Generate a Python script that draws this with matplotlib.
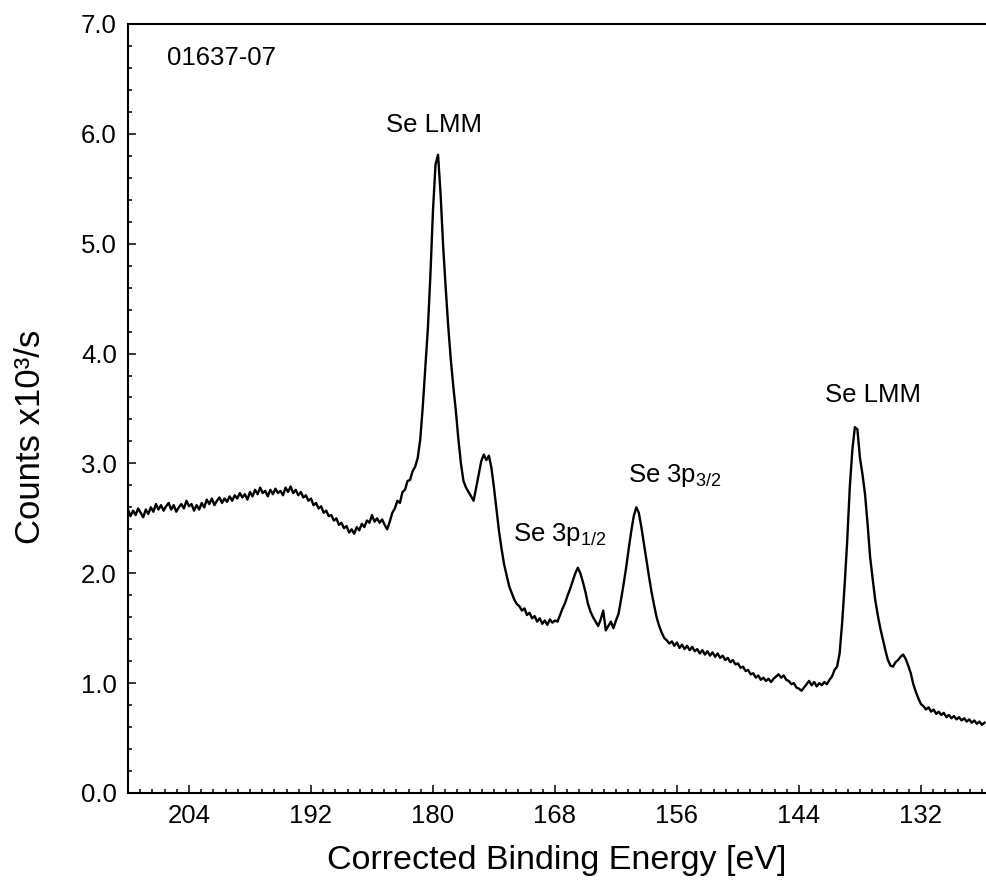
"""
Se survey spectrum (XPS), sample 01637-07.
Counts read off the original figure, 0.25 eV steps, highest binding energy first.
"""
import numpy as np
import matplotlib
matplotlib.use("Agg")
import matplotlib.pyplot as plt
from matplotlib.ticker import MultipleLocator, FormatStrFormatter

plt.rcParams["font.family"] = ["Liberation Sans", "DejaVu Sans"]

STEP = 0.25  # eV between points

# 210.00 -> 190.00 eV  (broad background hump)
bg_start = 210.0
bg_counts = [
    2.58, 2.52, 2.57, 2.53, 2.59, 2.55, 2.51, 2.58,
    2.54, 2.60, 2.56, 2.63, 2.58, 2.62, 2.57, 2.61,
    2.64, 2.58, 2.62, 2.56, 2.60, 2.63, 2.59, 2.66,
    2.61, 2.63, 2.57, 2.62, 2.58, 2.64, 2.60, 2.67,
    2.63, 2.68, 2.62, 2.66, 2.69, 2.64, 2.68, 2.65,
    2.70, 2.66, 2.71, 2.68, 2.73, 2.69, 2.72, 2.67,
    2.74, 2.70, 2.76, 2.72, 2.78, 2.73, 2.75, 2.70,
    2.76, 2.72, 2.77, 2.73, 2.75, 2.71, 2.78, 2.74,
    2.79, 2.73, 2.76, 2.71, 2.74, 2.69, 2.71, 2.66,
    2.68, 2.62, 2.64, 2.59, 2.61, 2.55, 2.57, 2.52,
    2.53,
]

# 189.75 -> 182.00 eV
pre_lmm_start = 189.75
pre_lmm_counts = [
    2.48, 2.50, 2.44, 2.46, 2.41, 2.43, 2.37, 2.40,
    2.36, 2.42, 2.39, 2.45, 2.42, 2.48, 2.46, 2.53,
    2.47, 2.50, 2.46, 2.49, 2.44, 2.40, 2.47, 2.55,
    2.59, 2.66, 2.64, 2.74, 2.76, 2.84, 2.85, 2.93,
]

# 181.75 -> 176.00 eV  (Se LMM, main)
lmm1_start = 181.75
lmm1_counts = [
    2.97, 3.05, 3.22, 3.52, 3.88, 4.23, 4.72, 5.30,
    5.72, 5.81, 5.45, 4.98, 4.60, 4.25, 3.95, 3.70,
    3.48, 3.22, 3.00, 2.84, 2.78, 2.74, 2.70, 2.66,
]

# 175.75 -> 160.00 eV  (shoulder, Se 3p1/2, Se 3p3/2)
se3p_start = 175.75
se3p_counts = [
    2.78, 2.90, 3.02, 3.08, 3.03, 3.07, 2.96, 2.78,
    2.58, 2.38, 2.22, 2.08, 1.98, 1.88, 1.82, 1.76,
    1.72, 1.70, 1.66, 1.68, 1.62, 1.64, 1.59, 1.61,
    1.56, 1.59, 1.54, 1.57, 1.53, 1.58, 1.55, 1.57,
    1.56, 1.62, 1.68, 1.73, 1.80, 1.86, 1.93, 2.00,
    2.05, 2.00, 1.92, 1.83, 1.72, 1.65, 1.60, 1.56,
    1.52, 1.58, 1.66, 1.48, 1.52, 1.56, 1.50, 1.57,
    1.63, 1.76, 1.90, 2.05, 2.22, 2.38, 2.52, 2.60,
]

# 159.75 -> 140.50 eV
tail_start = 159.75
tail_counts = [
    2.55, 2.42, 2.27, 2.12, 1.97, 1.83, 1.71, 1.60,
    1.52, 1.46, 1.41, 1.39, 1.36, 1.38, 1.34, 1.37,
    1.32, 1.35, 1.31, 1.34, 1.30, 1.33, 1.29, 1.31,
    1.27, 1.30, 1.26, 1.29, 1.25, 1.28, 1.24, 1.27,
    1.23, 1.25, 1.21, 1.23, 1.19, 1.21, 1.17, 1.18,
    1.14, 1.15, 1.11, 1.12, 1.08, 1.09, 1.05, 1.07,
    1.03, 1.05, 1.02, 1.04, 1.01, 1.04, 1.06, 1.08,
    1.05, 1.07, 1.03, 1.02, 0.99, 1.00, 0.96, 0.95,
    0.93, 0.96, 0.99, 1.02, 0.98, 1.01, 0.97, 1.00,
    0.98, 1.01, 0.99, 1.03, 1.06, 1.12,
]

# 140.25 -> 125.75 eV  (Se LMM, second)
lmm2_start = 140.25
lmm2_counts = [
    1.15, 1.27, 1.55, 1.90, 2.30, 2.78, 3.12, 3.33,
    3.31, 3.05, 2.90, 2.72, 2.45, 2.15, 1.95, 1.76,
    1.62, 1.50, 1.40, 1.30, 1.21, 1.16, 1.15, 1.19,
    1.21, 1.24, 1.26, 1.22, 1.16, 1.09, 0.99, 0.92,
    0.86, 0.81, 0.79, 0.76, 0.78, 0.74, 0.76, 0.72,
    0.74, 0.71, 0.73, 0.69, 0.71, 0.68, 0.70, 0.67,
    0.69, 0.66, 0.68, 0.65, 0.67, 0.64, 0.66, 0.63,
    0.65, 0.62, 0.64,
]

segments = [
    (bg_start, bg_counts),
    (pre_lmm_start, pre_lmm_counts),
    (lmm1_start, lmm1_counts),
    (se3p_start, se3p_counts),
    (tail_start, tail_counts),
    (lmm2_start, lmm2_counts),
]

# peak labels: (text, energy, counts, alignment)
sample_id = "01637-07"
peak_labels = [
    ("Se LMM", 179.85, 6.02, "center"),
    ("Se 3p$_{\\mathregular{1/2}}$", 172.1, 2.29, "left"),
    ("Se 3p$_{\\mathregular{3/2}}$", 160.8, 2.83, "left"),
    ("Se LMM", 136.7, 3.56, "center"),
]


def build_spectrum():
    energy, counts = [], []
    for start, vals in segments:
        energy.append(start - STEP * np.arange(len(vals)))
        counts.append(np.asarray(vals))
    return np.concatenate(energy), np.concatenate(counts)


def main():
    energy, counts = build_spectrum()

    fig = plt.figure(figsize=(9.86, 8.81), dpi=100)
    ax = fig.add_axes([0.1298, 0.0999, 0.8702, 0.8729])

    ax.plot(energy, counts, color="black", linewidth=1.7)

    ax.set_xlim(210.0, 125.6)
    ax.set_ylim(0, 7.0)

    ax.xaxis.set_major_locator(MultipleLocator(12))
    ax.xaxis.set_minor_locator(MultipleLocator(1.2))
    ax.yaxis.set_major_locator(MultipleLocator(1.0))
    ax.yaxis.set_minor_locator(MultipleLocator(0.2))
    ax.yaxis.set_major_formatter(FormatStrFormatter("%.1f"))

    ax.tick_params(which="both", direction="in", width=1.1, labelsize=18.5,
                   pad=8, top=False, right=False)
    ax.tick_params(which="major", length=6)
    ax.tick_params(which="minor", length=3.2)

    for side in ("left", "bottom", "top"):
        ax.spines[side].set_linewidth(1.5)
    ax.spines["right"].set_visible(False)

    ax.set_xlabel("Corrected Binding Energy [eV]", fontsize=24.5)
    ax.set_ylabel("Counts x10³/s", fontsize=25)
    ax.xaxis.set_label_coords(0.5, -0.068)
    ax.yaxis.set_label_coords(-0.094, 0.463)

    ax.text(206.2, 6.63, sample_id, fontsize=18.5, ha="left", va="baseline")
    for text, e, c, ha in peak_labels:
        ax.text(e, c, text, fontsize=18.5, ha=ha, va="baseline")

    fig.savefig("out.png", dpi=100)


if __name__ == "__main__":
    main()
